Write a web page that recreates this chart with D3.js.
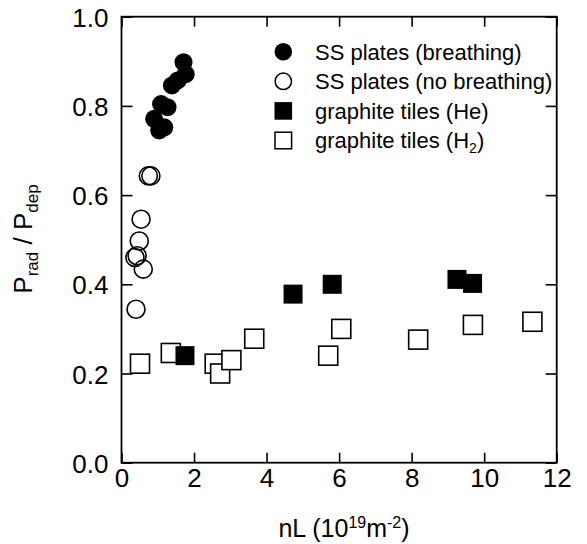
<!DOCTYPE html>
<html><head><meta charset="utf-8">
<script src="https://cdn.jsdelivr.net/npm/d3@7"></script>
<style>
body{margin:0;background:#fff;}
svg{display:block;font-family:"Liberation Sans",Arial,Helvetica,sans-serif;}
</style></head>
<body><svg id="c" width="587" height="544"></svg>
<script>
// ---- data ----
const ssBreathingX = [1.71, 1.77, 1.55, 1.39, 1.09, 1.27, 0.90, 1.18, 1.04];
const ssBreathingY = [0.898, 0.871, 0.857, 0.846, 0.804, 0.797, 0.771, 0.752, 0.745];
const ssNoBreathingX = [0.74, 0.81, 0.54, 0.49, 0.37, 0.43, 0.60, 0.40];
const ssNoBreathingY = [0.643, 0.643, 0.546, 0.497, 0.460, 0.464, 0.434, 0.344];
const graphiteHeX = [1.75, 4.73, 5.81, 9.25, 9.68];
const graphiteHeY = [0.240, 0.378, 0.400, 0.411, 0.402];
const graphiteH2X = [0.51, 1.36, 2.57, 2.72, 3.03, 3.66, 5.70, 6.06, 8.18, 9.69, 11.33];
const graphiteH2Y = [0.222, 0.246, 0.222, 0.200, 0.230, 0.278, 0.240, 0.300, 0.276, 0.309, 0.316];
const xTicks = [0, 2, 4, 6, 8, 10, 12];
const yTicks = [0.0, 0.2, 0.4, 0.6, 0.8, 1.0];
const legendLabels = ["SS plates (breathing)", "SS plates (no breathing)", "graphite tiles (He)", "graphite tiles (H"];

const svg = d3.select("#c");
const L = 121.5, R = 556.7, T = 16.7, B = 462.7;
const x = d3.scaleLinear().domain([0, 12]).range([L, R]);
const y = d3.scaleLinear().domain([0, 1]).range([B, T]);
const zip = (a, b) => a.map((v, i) => [v, b[i]]);

function styleAxis(g) {
  g.selectAll(".domain").remove();
  g.selectAll(".tick line").attr("stroke", "#000").attr("stroke-width", 1.6);
  g.selectAll("text").attr("fill", "#000").attr("font-size", 26).attr("font-family", null);
}
// bottom
svg.append("g").attr("transform", `translate(0,${B})`)
  .call(d3.axisBottom(x).tickValues(xTicks).tickSizeInner(-10).tickSizeOuter(0).tickPadding(5).tickFormat(d3.format("d")))
  .call(styleAxis)
  .call(g => g.selectAll("text").attr("y", 0).attr("dy", 24));
// top
svg.append("g").attr("transform", `translate(0,${T})`)
  .call(d3.axisTop(x).tickValues(xTicks).tickSizeInner(-10).tickSizeOuter(0).tickFormat(""))
  .call(styleAxis);
// left
svg.append("g").attr("transform", `translate(${L},0)`)
  .call(d3.axisLeft(y).tickValues(yTicks).tickSizeInner(-11).tickSizeOuter(0).tickFormat(d3.format(".1f")))
  .call(styleAxis)
  .call(g => g.selectAll("text").attr("x", -13).attr("dy", 9.5));
// right
svg.append("g").attr("transform", `translate(${R},0)`)
  .call(d3.axisRight(y).tickValues(yTicks).tickSizeInner(-11).tickSizeOuter(0).tickFormat(""))
  .call(styleAxis);
// frame
svg.append("rect").attr("x", L).attr("y", T).attr("width", R - L).attr("height", B - T)
  .attr("fill", "none").attr("stroke", "#000").attr("stroke-width", 1.8);

// axis titles
const xt = svg.append("text").attr("x", 344).attr("y", 537).attr("text-anchor", "middle").attr("font-size", 25);
xt.append("tspan").text("nL (10");
xt.append("tspan").attr("font-size", 16).attr("dy", -9).text("19");
xt.append("tspan").attr("dy", 9).text("m");
xt.append("tspan").attr("font-size", 16).attr("dy", -9).text("-2");
xt.append("tspan").attr("dy", 9).text(")");

const yt = svg.append("text").attr("transform", "translate(32,239) rotate(-90)").attr("text-anchor", "middle").attr("font-size", 26);
yt.append("tspan").text("P");
yt.append("tspan").attr("font-size", 17).attr("dy", 6).text("rad");
yt.append("tspan").attr("dy", -6).text(" / P");
yt.append("tspan").attr("font-size", 17).attr("dy", 6).text("dep");

// marks
const plot = svg.append("g");
const sq = 19, r = 9;
plot.selectAll(".h2").data(zip(graphiteH2X, graphiteH2Y)).join("rect")
  .attr("x", d => x(d[0]) - sq / 2).attr("y", d => y(d[1]) - sq / 2)
  .attr("width", sq).attr("height", sq).attr("fill", "#fff").attr("stroke", "#000").attr("stroke-width", 1.6);
plot.selectAll(".he").data(zip(graphiteHeX, graphiteHeY)).join("rect")
  .attr("x", d => x(d[0]) - sq / 2).attr("y", d => y(d[1]) - sq / 2)
  .attr("width", sq).attr("height", sq).attr("fill", "#000");
plot.selectAll(".nb").data(zip(ssNoBreathingX, ssNoBreathingY)).join("circle")
  .attr("cx", d => x(d[0])).attr("cy", d => y(d[1])).attr("r", r)
  .attr("fill", "none").attr("stroke", "#000").attr("stroke-width", 1.6);
plot.selectAll(".b").data(zip(ssBreathingX, ssBreathingY)).join("circle")
  .attr("cx", d => x(d[0])).attr("cy", d => y(d[1])).attr("r", r).attr("fill", "#000");

// legend
const lg = svg.append("g");
const lx = 283.3, ly0 = 51.7, step = 29.6;
lg.append("circle").attr("cx", lx).attr("cy", ly0).attr("r", 8.8).attr("fill", "#000");
lg.append("circle").attr("cx", lx).attr("cy", ly0 + step).attr("r", 8.2).attr("fill", "none").attr("stroke", "#000").attr("stroke-width", 1.5);
lg.append("rect").attr("x", lx - 8.8).attr("y", ly0 + 2 * step - 8.8).attr("width", 17.6).attr("height", 17.6).attr("fill", "#000");
lg.append("rect").attr("x", lx - 8.3).attr("y", ly0 + 3 * step - 8.3).attr("width", 16.6).attr("height", 16.6).attr("fill", "#fff").attr("stroke", "#000").attr("stroke-width", 1.5);
legendLabels.forEach((t, i) => {
  const tx = lg.append("text").attr("x", 315).attr("y", ly0 + i * step + 7.8).attr("font-size", 22).text(t);
  if (i === 3) {
    tx.append("tspan").attr("font-size", 14).attr("dy", 5).text("2");
    tx.append("tspan").attr("dy", -5).text(")");
  }
});
</script></body></html>
